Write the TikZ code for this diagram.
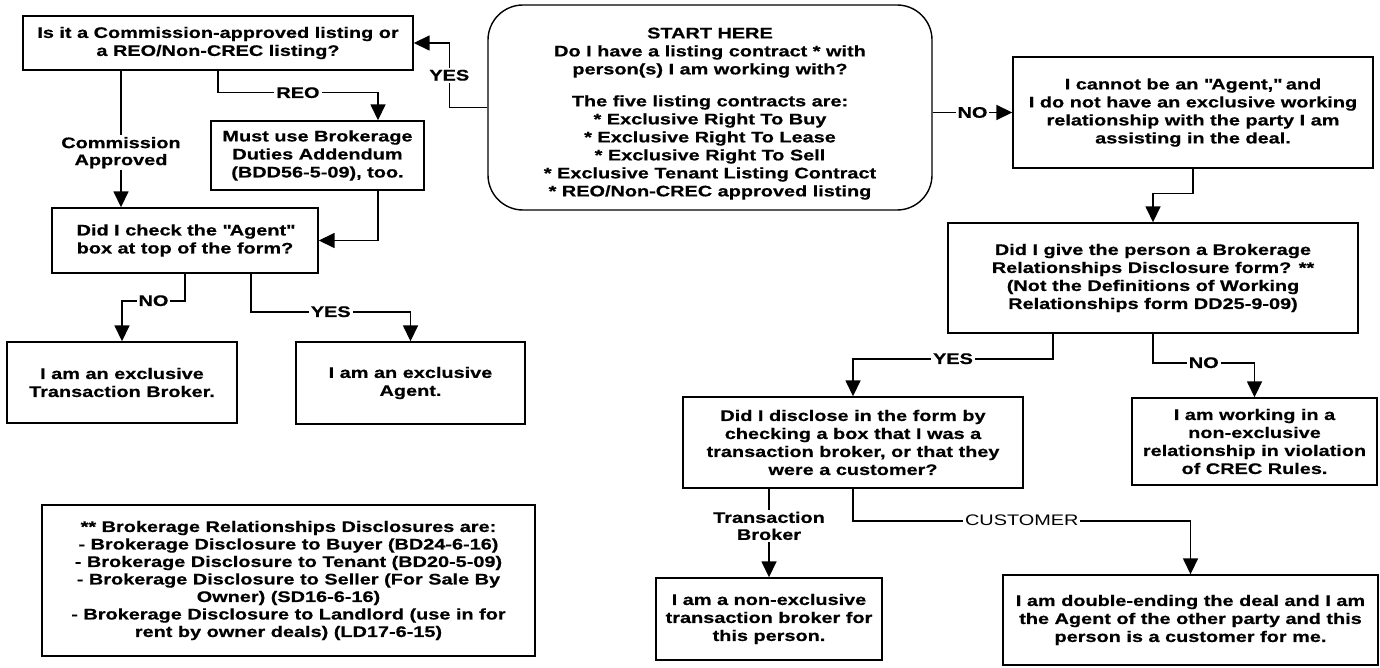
\documentclass[tikz,border=0pt]{standalone}
\usepackage{fontspec}
\setmainfont{Liberation Sans}[FakeStretch=1.3, BoldFeatures={FakeBold=0.6}]
\usetikzlibrary{arrows.meta, calc}

\begin{document}
\begin{tikzpicture}[x=1pt, y=-1pt,
  box/.style={draw, line width=1.4pt, align=center, inner sep=0pt,
    font=\fontsize{15.3}{18}\selectfont\bfseries},
  arr/.style={line width=1.6pt, -{Triangle[width=15pt,length=16pt]}},
  lbl/.style={fill=white, inner sep=2pt, align=center,
    font=\fontsize{15.3}{17}\selectfont\bfseries}]
  \useasboundingbox (0,0) rectangle (1380,668);

  % Start
  \node[box, rounded corners=35, minimum width=444, minimum height=205] (start) at (710,107.5)
    {\rule{0pt}{23pt}START HERE\\Do I have a listing contract * with\\person(s) I am working with?\\[14pt]
     The five listing contracts are:\\* Exclusive Right To Buy\\* Exclusive Right To Lease\\
     * Exclusive Right To Sell\\* Exclusive Tenant Listing Contract\\* REO/Non-CREC approved listing};

  % Listing branch
  \node[box, minimum width=390, minimum height=54] (q1) at (218,43)
    {Is it a Commission-approved listing or\\a REO/Non-CREC listing?};
  \node[box, minimum width=213, minimum height=69] (reo) at (317.5,155.5)
    {Must use Brokerage\\Duties Addendum\\(BDD56-5-09), too.};
  \node[box, minimum width=266, minimum height=65] (chk) at (185,240.5)
    {Did I check the \textquotedbl Agent\textquotedbl\\box at top of the form?};
  \node[box, minimum width=230, minimum height=81] (tb) at (122,382.5)
    {I am an exclusive\\Transaction Broker.};
  \node[box, minimum width=229, minimum height=82] (ag) at (410.5,383)
    {I am an exclusive\\Agent.};

  % Footnote
  \node[box, minimum width=493, minimum height=151, font=\fontsize{15.3}{17.5}\selectfont\bfseries]
    (legend) at (288.5,580.5)
    {** Brokerage Relationships Disclosures are:\\- Brokerage Disclosure to Buyer (BD24-6-16)\\
     - Brokerage Disclosure to Tenant (BD20-5-09)\\- Brokerage Disclosure to Seller (For Sale By\\
     Owner) (SD16-6-16)\\- Brokerage Disclosure to Landlord (use in for\\rent by owner deals) (LD17-6-15)};

  % No listing branch
  \node[box, minimum width=360, minimum height=111] (cant) at (1193,112.5)
    {I cannot be an \textquotedbl Agent,\textquotedbl{} and\\I do not have an exclusive working\\relationship with the party I am\\assisting in the deal.};
  \node[box, minimum width=410, minimum height=110] (give) at (1153,278)
    {Did I give the person a Brokerage\\Relationships Disclosure form? **\\(Not the Definitions of Working\\Relationships form DD25-9-09)};
  \node[box, minimum width=340, minimum height=91] (disc) at (853,442.5)
    {Did I disclose in the form by\\checking a box that I was a\\transaction broker, or that they\\were a customer?};
  \node[box, minimum width=245, minimum height=87] (work) at (1254.5,441.5)
    {I am working in a\\non-exclusive\\relationship in violation\\of CREC Rules.};
  \node[box, minimum width=226, minimum height=82] (nonex) at (769,619)
    {I am a non-exclusive\\transaction broker for\\this person.};
  \node[box, minimum width=375, minimum height=90] (dbl) at (1190.5,620)
    {I am double-ending the deal and I am\\the Agent of the other party and this\\person is a customer for me.};

  % Connectors
  \draw[arr] (start.west) -- ++(-38,0) |- node[lbl, pos=0.25] {YES} (q1.east);
  \draw[arr] (start.east |- cant.west) -- node[lbl] {NO} (cant.west);
  \draw[arr] (q1.south) -- ++(0,22) -| node[lbl, pos=0.25] {REO} ($(reo.north)+(60.5,0)$);
  \coordinate (ca) at ($(q1.south)+(-97,0)$);
  \draw[arr] (ca) -- node[lbl, pos=0.6] {Commission\\Approved} (ca |- chk.north);
  \draw[arr] ($(reo.south)+(60.5,0)$) |- (chk.east);
  \draw[arr] (chk.south) -- ++(0,27) -| node[lbl, pos=0.25] {NO} (tb.north);
  \draw[arr] ($(chk.south)+(66,0)$) -- ++(0,38) -| node[lbl, pos=0.25] {YES} (ag.north);
  \draw[arr] (cant.south) -- ++(0,25) -| (give.north);
  \draw[arr] ($(give.south)+(-100,0)$) -- ++(0,25) -| node[lbl, pos=0.25] {YES} (disc.north);
  \draw[arr] (give.south) -- ++(0,29) -| node[lbl, pos=0.25] {NO} (work.north);
  \draw[arr] (nonex.north |- disc.south) -- node[lbl, pos=0.42] {Transaction\\Broker} (nonex.north);
  \draw[arr] (disc.south) -- ++(0,32) -| node[lbl, pos=0.25, font=\fontsize{15.3}{17}\selectfont] {CUSTOMER} (dbl.north);
\end{tikzpicture}
\end{document}
